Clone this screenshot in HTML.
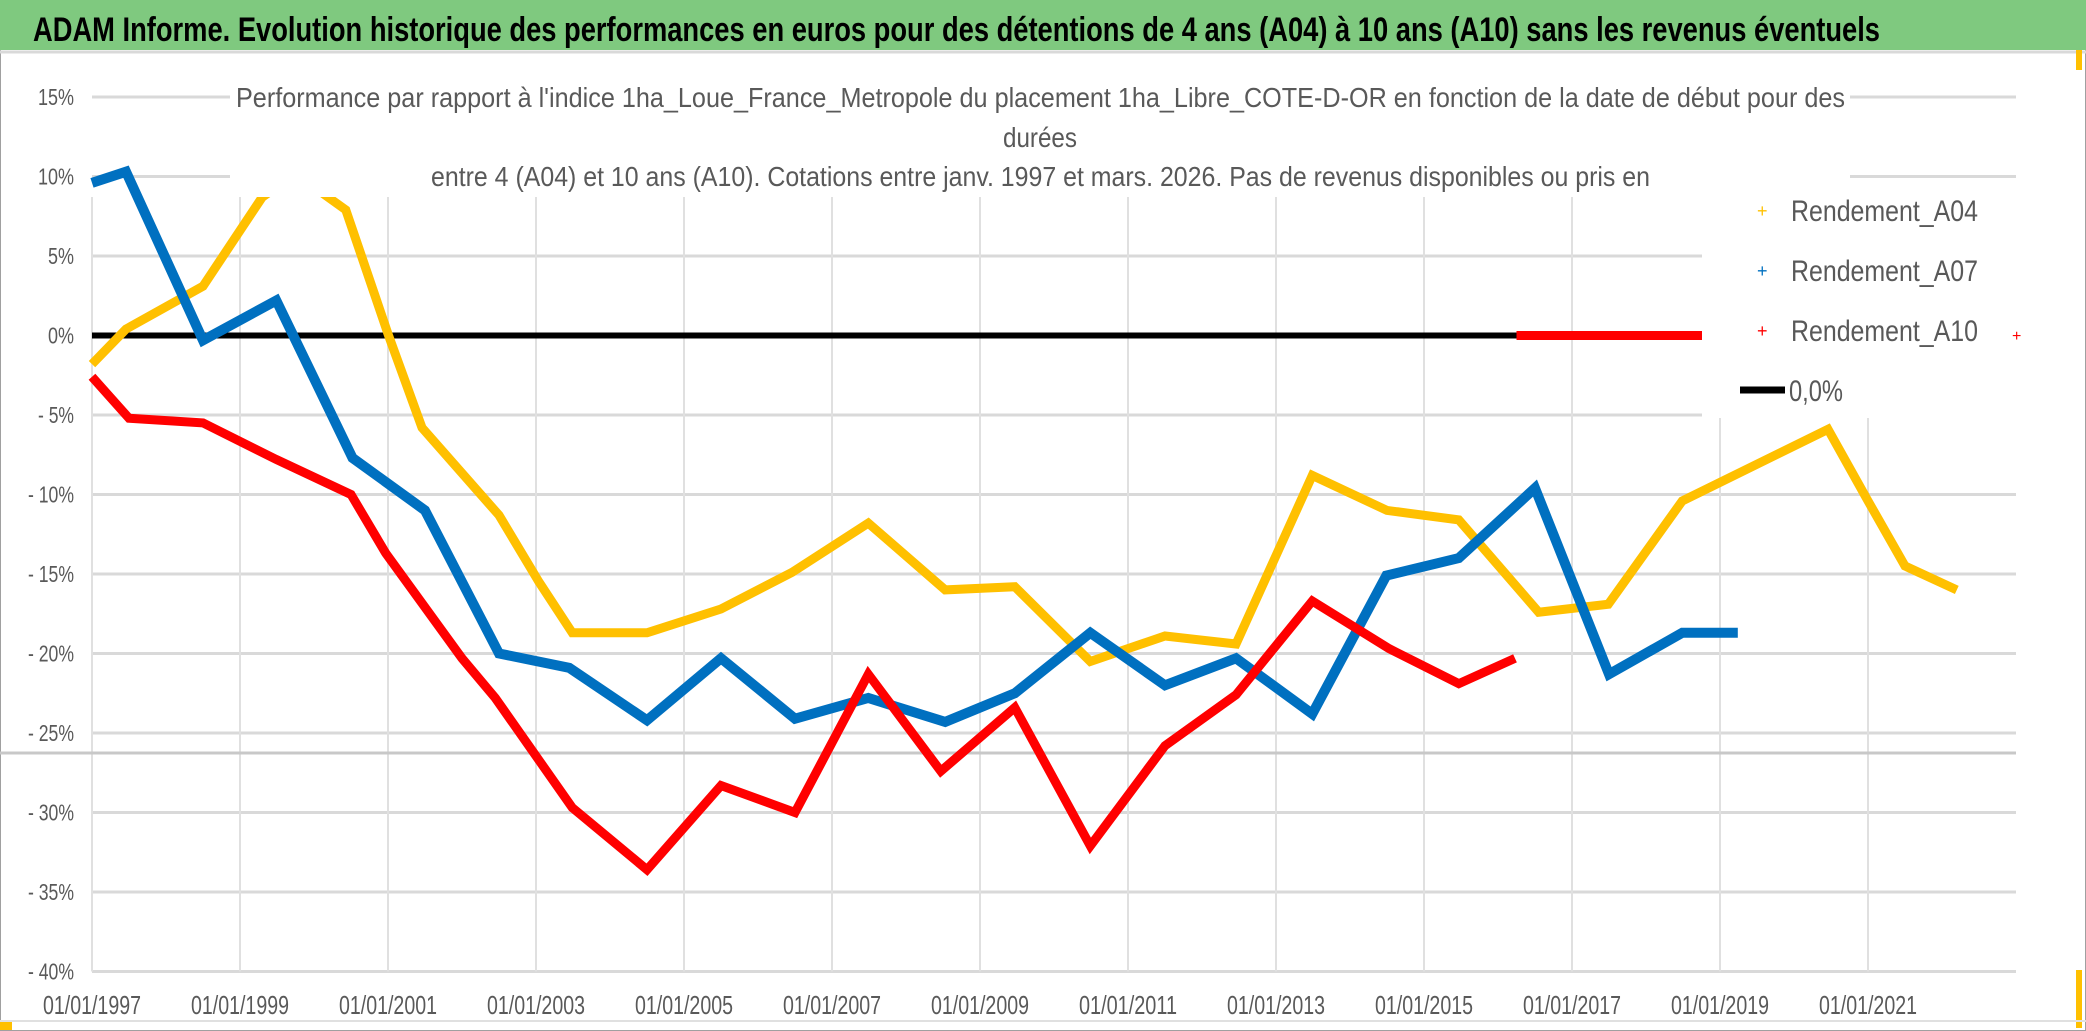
<!DOCTYPE html>
<html><head><meta charset="utf-8">
<style>
html,body{margin:0;padding:0;background:#fff;}
svg{display:block;}
text{font-family:"Liberation Sans",sans-serif;}
</style></head>
<body>
<svg id="chart" width="2086" height="1031" viewBox="0 0 2086 1031" xmlns="http://www.w3.org/2000/svg">
  <rect x="0" y="0" width="2086" height="1031" fill="#ffffff" stroke="#a0a0a0" stroke-width="2"/>
  <rect x="0" y="0" width="2086" height="50" fill="#7fc97f"/>
  <line x1="0" y1="52" x2="2086" y2="52" stroke="#d9d9d9" stroke-width="3"/>
  <text x="33" y="41" font-size="34" font-weight="bold" fill="#000" textLength="1847" lengthAdjust="spacingAndGlyphs">ADAM Informe. Evolution historique des performances en euros pour des détentions de 4 ans (A04) à 10 ans (A10) sans les revenus éventuels</text>
  <rect x="2076" y="50" width="6" height="20" fill="#ffc000"/>
  <rect x="2076" y="970" width="6" height="58" fill="#ffc000"/>
  <rect x="0" y="1022" width="12" height="8" fill="#ffc000"/>
  <line x1="0" y1="1021" x2="2086" y2="1021" stroke="#e0e0e0" stroke-width="2"/>
  <g id="grid"></g>
  <line x1="0" y1="753" x2="2016" y2="753" stroke="#c8c8c8" stroke-width="3"/>
  <g id="series"></g>
  <g id="axes"></g>
  <rect x="230" y="78" width="1620" height="119" fill="#ffffff"/>
  <text x="236" y="107" font-size="28" fill="#595959" textLength="1609" lengthAdjust="spacingAndGlyphs">Performance par rapport à l'indice 1ha_Loue_France_Metropole  du placement 1ha_Libre_COTE-D-OR en fonction de la date de début pour des</text>
  <text x="1003" y="147" font-size="28" fill="#595959" textLength="74" lengthAdjust="spacingAndGlyphs">durées</text>
  <text x="431" y="186" font-size="28" fill="#595959" textLength="1219" lengthAdjust="spacingAndGlyphs">entre 4 (A04) et 10 ans (A10). Cotations entre janv. 1997 et mars. 2026. Pas de revenus disponibles ou pris en</text>
  <g id="legend">
    <rect x="1702" y="180" width="314" height="238" fill="#ffffff"/>
    <text x="1757" y="217" font-size="18" fill="#ffc000">+</text>
    <text x="1791" y="221" font-size="30" fill="#595959" textLength="187" lengthAdjust="spacingAndGlyphs">Rendement_A04</text>
    <text x="1757" y="277" font-size="18" fill="#0070c0">+</text>
    <text x="1791" y="281" font-size="30" fill="#595959" textLength="187" lengthAdjust="spacingAndGlyphs">Rendement_A07</text>
    <text x="1757" y="337" font-size="18" fill="#ff0000">+</text>
    <text x="1791" y="341" font-size="30" fill="#595959" textLength="187" lengthAdjust="spacingAndGlyphs">Rendement_A10</text>
    <text x="2012" y="341" font-size="16" fill="#ff0000">+</text>
    <line x1="1740" y1="390" x2="1785" y2="390" stroke="#000" stroke-width="7"/>
    <text x="1789" y="401" font-size="30" fill="#595959" textLength="54" lengthAdjust="spacingAndGlyphs">0,0%</text>
  </g>
</svg>
<script>
const yTicks = [15,10,5,0,-5,-10,-15,-20,-25,-30,-35,-40];
const xTickYears = [1997,1999,2001,2003,2005,2007,2009,2011,2013,2015,2017,2019,2021];
const a04Years = [1997.0,1997.46,1998.5,1999.3,1999.7,2000.1,2000.43,2001.0,2001.46,2002.5,2003.04,2003.49,2004.5,2005.5,2006.46,2007.49,2008.53,2009.47,2010.49,2011.5,2012.46,2013.49,2014.5,2015.47,2016.55,2017.49,2018.49,2020.46,2021.0,2021.5,2022.2];
const a04Vals  = [-1.8,0.4,3.1,8.7,10.0,9.0,7.9,0.1,-5.8,-11.3,-15.5,-18.7,-18.7,-17.2,-14.9,-11.8,-16.0,-15.8,-20.5,-18.9,-19.4,-8.8,-11.0,-11.6,-17.4,-16.9,-10.4,-5.9,-10.4,-14.5,-16.0];
const a07Years = [1997.0,1997.46,1998.5,1999.49,2000.52,2001.5,2002.5,2003.45,2004.5,2005.5,2006.5,2007.49,2008.53,2009.47,2010.49,2011.5,2012.46,2013.49,2014.49,2015.47,2016.5,2017.5,2018.49,2019.24];
const a07Vals  = [9.6,10.3,-0.3,2.2,-7.7,-11.0,-20.0,-20.9,-24.2,-20.3,-24.1,-22.8,-24.3,-22.5,-18.7,-22.0,-20.3,-23.8,-15.1,-14.0,-9.6,-21.3,-18.7,-18.7];
const a10Years = [1997.0,1997.5,1998.5,1999.49,2000.5,2000.97,2002.0,2002.45,2003.49,2004.5,2005.5,2006.5,2007.49,2008.47,2009.47,2010.49,2011.5,2012.46,2013.49,2014.53,2015.47,2016.23];
const a10Vals  = [-2.6,-5.2,-5.5,-7.8,-10.0,-13.7,-20.3,-22.8,-29.7,-33.6,-28.3,-30.0,-21.3,-27.4,-23.4,-32.1,-25.8,-22.6,-16.7,-19.7,-21.9,-20.3];
const a10ZeroYears = [2016.25, 2023.0];
const a10ZeroVals = [0, 0];
const zeroYears = [1997.0, 2023.0];
const zeroVals = [0, 0];

const NS = "http://www.w3.org/2000/svg";
const X0 = 92, X1 = 2016, YEAR0 = 1997, YEAR1 = 2023;
const Y_TOP = 97, PCT_TOP = 15, PX_PER_PCT = 15.9;
function xScale(yr){ return X0 + (yr - YEAR0) * (X1 - X0) / (YEAR1 - YEAR0); }
function yScale(v){ return Y_TOP + (PCT_TOP - v) * PX_PER_PCT; }
function mk(tag, attrs, parent){ const e = document.createElementNS(NS, tag); for (const k in attrs) e.setAttribute(k, attrs[k]); parent.appendChild(e); return e; }

const grid = document.getElementById('grid');
const axes = document.getElementById('axes');
yTicks.forEach(v => {
  const l = mk('line', {x1:X0, x2:X1, y1:yScale(v), y2:yScale(v), stroke:'#d9d9d9', 'stroke-width':3}, grid);
  
  
  const label = (v < 0 ? '- ' + (-v) : v) + '%';
  const w = v < 0 ? (Math.abs(v) >= 10 ? 46 : 36) : (v >= 10 ? 36 : 26);
  const t = mk('text', {x:74, y:yScale(v)+8, 'font-size':23, fill:'#595959', 'text-anchor':'end', textLength:w, lengthAdjust:'spacingAndGlyphs'}, axes);
  t.textContent = label;
  
  
});
xTickYears.forEach(yr => {
  const x = xScale(yr);
  const l = mk('line', {x1:x, x2:x, y1:197, y2:yScale(-40), stroke:'#e0e0e0', 'stroke-width':2}, grid);
  
  
  const t = mk('text', {x:x, y:1014, 'font-size':26, fill:'#595959', 'text-anchor':'middle', textLength:98, lengthAdjust:'spacingAndGlyphs'}, axes);
  t.textContent = '01/01/' + yr;
  
  
});

const series = document.getElementById('series');
function drawLine(years, vals, color, width, name){
  const pts = years.map((yr,i) => xScale(yr).toFixed(1) + ',' + yScale(vals[i]).toFixed(1)).join(' ');
  const p = mk('polyline', {points:pts, fill:'none', stroke:color, 'stroke-width':width, 'stroke-linejoin':'miter', 'stroke-linecap':'butt'}, series);
  
  
}
drawLine(zeroYears, zeroVals, '#000000', 6, 'zero-line');
drawLine(a10ZeroYears, a10ZeroVals, '#ff0000', 9, 'series-a10-zero');
drawLine(a04Years, a04Vals, '#ffc000', 9, 'series-a04');
drawLine(a07Years, a07Vals, '#0070c0', 10, 'series-a07');
drawLine(a10Years, a10Vals, '#ff0000', 9, 'series-a10');
</script>
</body></html>
